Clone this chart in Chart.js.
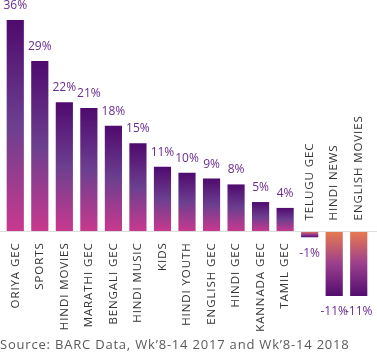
<!DOCTYPE html>
<html>
<head>
<meta charset="utf-8">
<script src="https://cdn.jsdelivr.net/npm/chart.js@4"></script>
<style>
html,body{margin:0;padding:0;background:#fff;}
#wrap{position:relative;width:377px;height:353px;}
</style>
</head>
<body>
<div id="wrap"><canvas id="c" width="377" height="353"></canvas></div>
<script>
const categories = ["ORIYA GEC","SPORTS","HINDI MOVIES","MARATHI GEC","BENGALI GEC","HINDI MUSIC","KIDS","HINDI YOUTH","ENGLISH GEC","HINDI GEC","KANNADA GEC","TAMIL GEC","TELUGU GEC","HINDI NEWS","ENGLISH MOVIES"];
const growth = [36,29,22,21,18,15,11,10,9,8,5,4,-1,-11,-11];
const valueLabels = ["36%","29%","22%","21%","18%","15%","11%","10%","9%","8%","5%","4%","-1%","-11%","-11%"];
const sourceText = "Source: BARC Data, Wk\u20198-14 2017 and Wk\u20198-14 2018";

const FONT = "'Open Sans', sans-serif";

function barGradient(ctx) {
  const chart = ctx.chart;
  const y = chart.scales.y;
  if (!chart.chartArea || !y) return '#6a2c91';
  const v = ctx.raw;
  const top = y.getPixelForValue(Math.max(v,0));
  const bot = y.getPixelForValue(Math.min(v,0));
  const g = chart.ctx.createLinearGradient(0, top, 0, bot === top ? top + 1 : bot);
  if (v >= 0) {
    g.addColorStop(0, '#4f0a6e');
    g.addColorStop(0.5, '#6c3f8f');
    g.addColorStop(1, '#c8398e');
  } else {
    g.addColorStop(0, '#e87b4f');
    g.addColorStop(0.5, '#9c3f8e');
    g.addColorStop(1, '#520d6f');
  }
  return g;
}

const labelPlugin = {
  id: 'labels',
  afterDatasetsDraw(chart) {
    const ctx = chart.ctx;
    const x = chart.scales.x, y = chart.scales.y;
    const zero = y.getPixelForValue(0);
    const meta = chart.getDatasetMeta(0);
    ctx.save();
    ctx.strokeStyle = '#dddddd';
    ctx.lineWidth = 1;
    ctx.beginPath();
    ctx.moveTo(0, Math.round(zero) + 0.5);
    ctx.lineTo(chart.width, Math.round(zero) + 0.5);
    ctx.stroke();
    meta.data.forEach((bar, i) => {
      const v = growth[i];
      const cx = x.getPixelForValue(i);
      ctx.fillStyle = '#6a2c91';
      ctx.font = '12px ' + FONT;
      ctx.letterSpacing = '0px';
      ctx.textAlign = 'center';
      if (v >= 0) {
        ctx.textBaseline = 'alphabetic';
        ctx.fillText(valueLabels[i], cx, bar.y - 11);
      } else {
        ctx.textBaseline = 'top';
        ctx.fillText(valueLabels[i], cx, bar.y + 10);
      }
      ctx.save();
      ctx.fillStyle = '#333333';
      ctx.font = '11.5px ' + FONT;
      ctx.letterSpacing = '0.9px';
      ctx.textBaseline = 'middle';
      if (v >= 0) {
        ctx.translate(cx, zero + 11);
        ctx.rotate(-Math.PI / 2);
        ctx.textAlign = 'right';
      } else {
        ctx.translate(cx, zero - 11);
        ctx.rotate(-Math.PI / 2);
        ctx.textAlign = 'left';
      }
      ctx.fillText(categories[i], 0, 0);
      ctx.restore();
    });
    ctx.fillStyle = '#5a5a5a';
    ctx.font = '13px ' + FONT;
    ctx.letterSpacing = '0.8px';
    ctx.textAlign = 'left';
    ctx.textBaseline = 'alphabetic';
    ctx.fillText(sourceText, 0, 349);
    ctx.restore();
  }
};

new Chart(document.getElementById('c'), {
  type: 'bar',
  data: {
    labels: categories,
    datasets: [{
      data: growth,
      backgroundColor: barGradient,
      borderWidth: 0,
      categoryPercentage: 1,
      barPercentage: 0.7
    }]
  },
  options: {
    responsive: false,
    animation: false,
    events: [],
    layout: { padding: { left: 3, right: 6, top: 20, bottom: 57 } },
    plugins: { legend: { display: false }, tooltip: { enabled: false } },
    scales: {
      x: { display: false, offset: true },
      y: { display: false, min: -11, max: 36 }
    }
  },
  plugins: [labelPlugin]
});
</script>
</body>
</html>
